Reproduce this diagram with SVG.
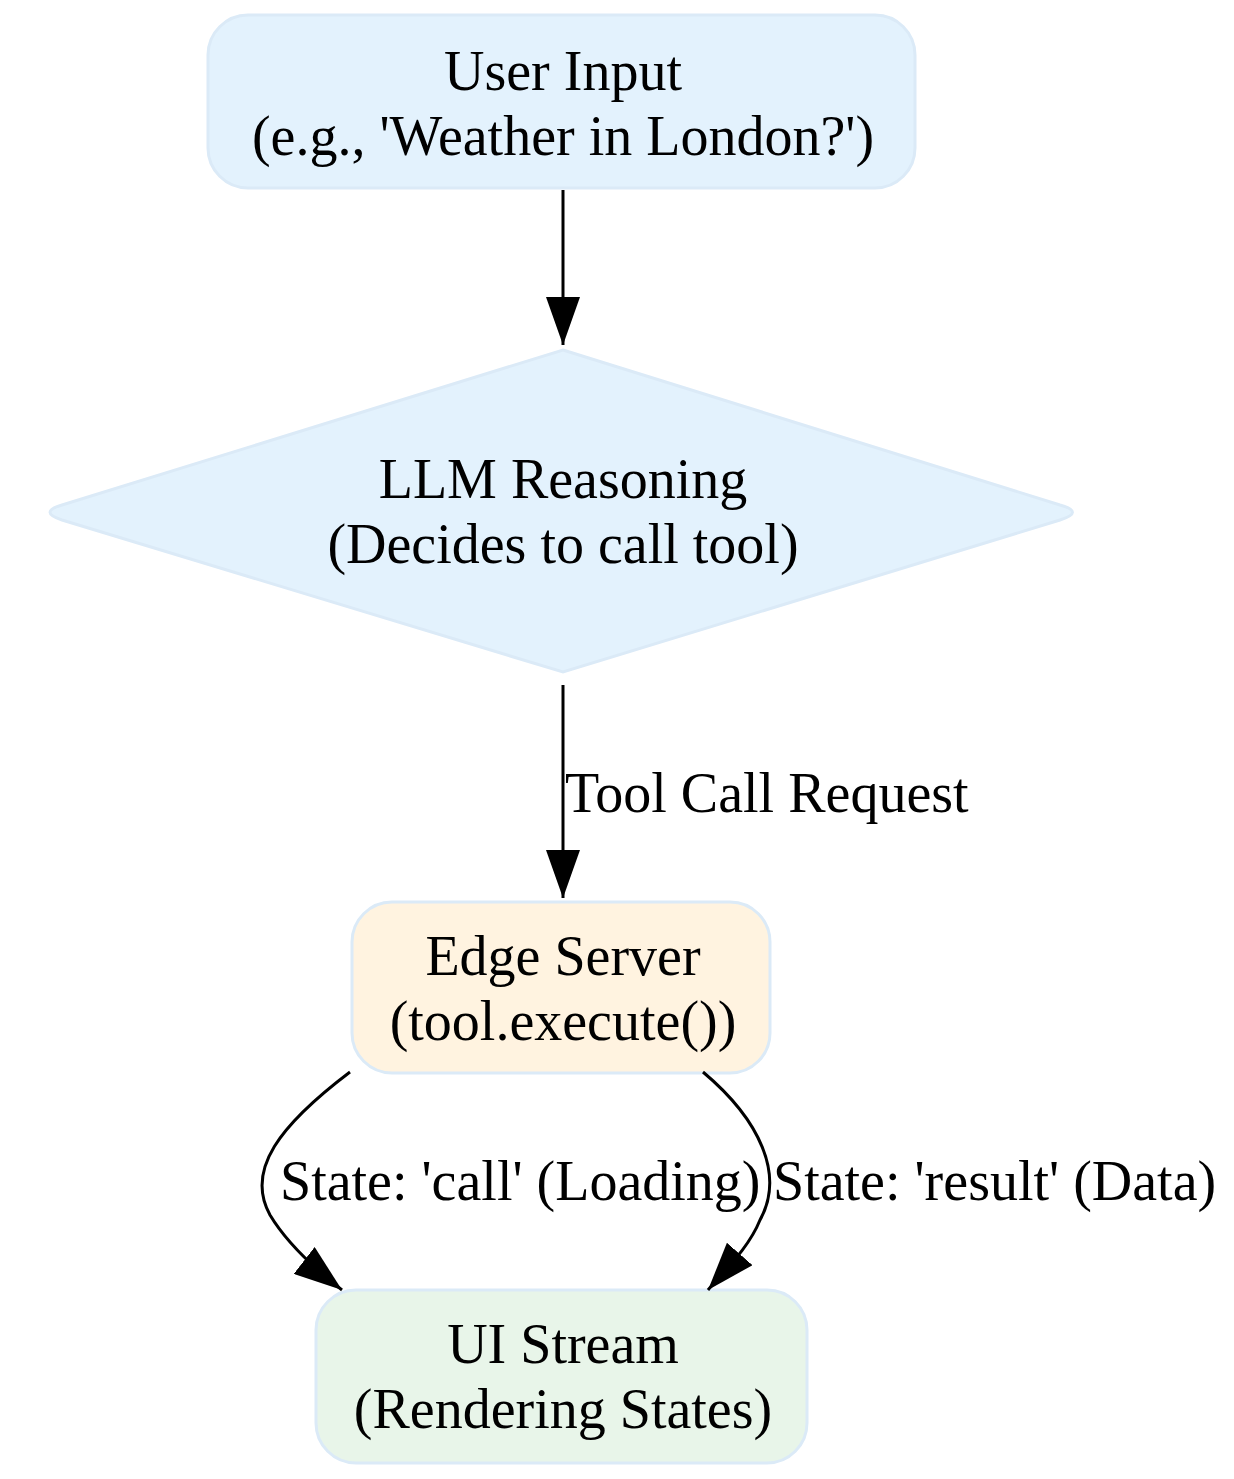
<svg xmlns="http://www.w3.org/2000/svg" width="1234" height="1479" viewBox="0 0 1234 1479">
<style>
text{font-family:"Liberation Serif",serif;font-size:56px;fill:#000;text-anchor:middle}
.e{fill:none;stroke:#000;stroke-width:3}
.n{stroke:#dbeaf7;stroke-width:3}
</style>
<defs>
<marker id="b" viewBox="0 0 10 10" refX="10" refY="5" markerWidth="48" markerHeight="34" orient="auto" markerUnits="userSpaceOnUse" preserveAspectRatio="none"><path d="M0,0L10,5L0,10z" fill="#000"/></marker></defs>
<rect width="1234" height="1479" fill="#fff"/>
<g id="user"><rect class="n" x="208" y="15" width="707" height="173" rx="40" fill="#e3f2fd"/><text x="563" y="90">User Input</text><text x="563" y="155">(e.g., 'Weather in London?')</text></g>
<g id="llm"><path class="n" d="M563,350 L1060,505 Q1085,512 1060,520 L563,672 L62,520 Q38,512 62,505 Z" fill="#e3f2fd"/><text x="563" y="498">LLM Reasoning</text><text x="563" y="563">(Decides to call tool)</text></g>
<g id="edge"><rect class="n" x="352" y="902" width="418" height="171" rx="40" fill="#fff3e0"/><text x="563" y="975">Edge Server</text><text x="563" y="1040">(tool.execute())</text></g>
<g id="ui"><rect class="n" x="316" y="1290" width="491" height="173" rx="40" fill="#e8f5e9"/><text x="563" y="1363">UI Stream</text><text x="563" y="1428">(Rendering States)</text></g>
<g id="connectors">
<path class="e" d="M563,190 V345" marker-end="url(#b)"/>
<path class="e" d="M563,685 V898" marker-end="url(#b)"/>
<text x="565" y="812" style="text-anchor:start">Tool Call Request</text>
<path class="e" d="M350,1072 C280,1125 245,1170 270,1215 C285,1240 310,1265 342,1290" marker-end="url(#b)"/>
<path class="e" d="M703,1072 C760,1120 785,1175 760,1220 C750,1245 730,1265 708,1290" marker-end="url(#b)"/>
<text x="280" y="1200" style="text-anchor:start">State: 'call' (Loading)</text>
<text x="773" y="1200" style="text-anchor:start">State: 'result' (Data)</text>
</g>
</svg>
